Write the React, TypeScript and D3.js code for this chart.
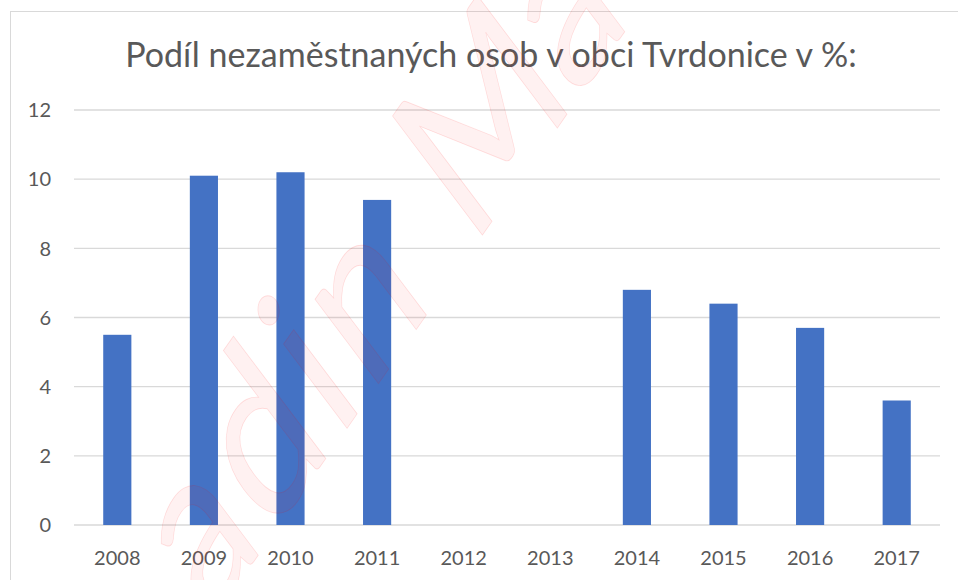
import React from "react";
import * as d3 from "d3";

const TITLE = "Podíl nezaměstnaných osob v obci Tvrdonice v %:";
const years = ["2008", "2009", "2010", "2011", "2012", "2013", "2014", "2015", "2016", "2017"];
const values = [5.5, 10.1, 10.2, 9.4, 0, 0, 6.8, 6.4, 5.7, 3.6];
const yTicks = [0, 2, 4, 6, 8, 10, 12];
const WATERMARK_A = "adin\u00a0";
const WATERMARK_B = "Ma";

const W = 958;
const H = 580;
const plot = { left: 74, right: 940, top: 110, bottom: 525 };
const FONT = "Lato, 'Open Sans', sans-serif";
const TEXT = "#595959";

export default function App() {
  const x = d3
    .scaleBand<string>()
    .domain(years)
    .range([plot.left, plot.right])
    .paddingInner(0.675)
    .paddingOuter(0.3375);
  const y = d3.scaleLinear().domain([0, 12]).range([plot.bottom, plot.top]);

  const wmTransform = "translate(472,250) rotate(-55) skewX(-18)";
  const wmStyle = {
    fontSize: 198,
    fontFamily: "Lato, sans-serif",
    fill: "rgba(255,0,0,0.055)",
    stroke: "rgba(255,0,0,0.12)",
    strokeWidth: 0.8,
  } as const;

  return (
    <svg
      width={W}
      height={H}
      style={{ position: "absolute", left: 0, top: 0, background: "#fff" }}
      fontFamily={FONT}
    >
      <rect x={0} y={0} width={W} height={H} fill="#fff" />
      <rect x={10.5} y={11.5} width={980} height={620} fill="#fff" stroke="#d9d9d9" strokeWidth={1} />
      <text x={491} y={67} textAnchor="middle" fontSize={34} fill={TEXT}>
        {TITLE}
      </text>
      {yTicks.map((t) => (
        <g key={t}>
          <line x1={plot.left} x2={plot.right} y1={y(t)} y2={y(t)} stroke="#d9d9d9" strokeWidth={1.3} />
          <text x={51} y={y(t)} dy="0.36em" textAnchor="end" fontSize={20} fill={TEXT}>
            {t}
          </text>
        </g>
      ))}
      {years.map((yr, i) => (
        <g key={yr}>
          {values[i] > 0 && (
            <rect
              x={x(yr)}
              y={y(values[i])}
              width={x.bandwidth()}
              height={y(0) - y(values[i])}
              fill="#4472c4"
            />
          )}
          <text x={(x(yr) as number) + x.bandwidth() / 2} y={565} textAnchor="middle" fontSize={20} fill={TEXT}>
            {yr}
          </text>
        </g>
      ))}
      <g transform={wmTransform} style={wmStyle}>
        <text x={0} y={0} textAnchor="end" letterSpacing={8}>
          {WATERMARK_A}
        </text>
        <text x={0} y={0} textAnchor="start">
          {WATERMARK_B}
        </text>
      </g>
    </svg>
  );
}
